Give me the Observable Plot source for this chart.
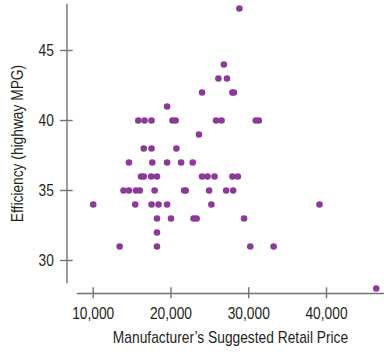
<!DOCTYPE html>
<html>
<head>
<meta charset="utf-8">
<script src="https://cdn.jsdelivr.net/npm/d3@7"></script>
<script src="https://cdn.jsdelivr.net/npm/@observablehq/plot@0.6"></script>
<style>
  html, body { margin: 0; padding: 0; background: #fff; }
  #chart svg { display: block; }
</style>
</head>
<body>
<div id="chart"></div>
<script>
const prices = [
  28800,
  26800,
  26100, 27200,
  24000, 27900, 28100,
  19500,
  15800, 16600, 17500, 20200, 20600, 25800, 26500, 30900, 31300,
  23600,
  16500, 17500, 20700,
  14600, 17600, 19500, 21300, 22800,
  16150, 16500, 17450, 18200, 24000, 24700, 25600, 27900, 28600,
  13900, 14600, 15500, 16000, 17900, 21700, 21900, 24900, 27100, 28000,
  10000, 15400, 17500, 18400, 19500, 25200, 39100,
  18200, 20000, 22900, 23300, 29400,
  18200,
  13400, 18200, 30200, 33200,
  46400
];
const mpg = [
  48,
  44,
  43, 43,
  42, 42, 42,
  41,
  40, 40, 40, 40, 40, 40, 40, 40, 40,
  39,
  38, 38, 38,
  37, 37, 37, 37, 37,
  36, 36, 36, 36, 36, 36, 36, 36, 36,
  35, 35, 35, 35, 35, 35, 35, 35, 35, 35,
  34, 34, 34, 34, 34, 34, 34,
  33, 33, 33, 33, 33,
  32,
  31, 31, 31, 31,
  28
];
const xTicks = [10000, 20000, 30000, 40000];
const yTicks = [30, 35, 40, 45];
const xLabel = "Manufacturer\u2019s Suggested Retail Price";
const yLabel = "Efficiency (highway MPG)";

const cars = prices.map((p, i) => ({price: p, mpg: mpg[i]}));

const font = "'Liberation Sans', Arial, sans-serif";
const axisColor = "#737373";
const textColor = "#231f20";
const fs = 16.8;

const chart = Plot.plot({
  width: 384,
  height: 352,
  marginTop: 4,
  marginRight: 1,
  marginBottom: 70,
  marginLeft: 77,
  style: {fontFamily: font, fontSize: fs + "px", color: textColor, background: "#fff"},
  x: {domain: [7981, 47330]},
  y: {domain: [28.4286, 48.2857]},
  marks: [
    Plot.frame({anchor: "left", dx: -10.5, stroke: axisColor, strokeWidth: 1.4}),
    Plot.frame({anchor: "bottom", dy: 11, stroke: axisColor, strokeWidth: 1.4}),
    Plot.axisY({ticks: yTicks, tickSize: 12.7, dx: -4.3, tickPadding: 6.7, stroke: axisColor, strokeWidth: 1.4, fill: textColor, fontSize: fs, label: null}),
    Plot.axisY({ticks: [], tickSize: 0, label: yLabel, labelAnchor: "center", labelOffset: 66, labelArrow: "none", fill: textColor, fontSize: fs}),
    Plot.axisX({ticks: xTicks, tickSize: 11, dy: 5.3, tickPadding: 8, stroke: axisColor, strokeWidth: 1.4, fill: textColor, fontSize: fs, tickFormat: d3.format(","), label: null}),
    Plot.axisX({ticks: [], tickSize: 0, label: xLabel, labelAnchor: "center", labelOffset: 60, labelArrow: "none", fill: textColor, fontSize: fs}),
    Plot.dot(cars, {x: "price", y: "mpg", r: 3.3, fill: "#8b3a98", stroke: "none"})
  ]
});
document.getElementById("chart").appendChild(chart);

// Condense glyphs horizontally (narrow, Helvetica-Condensed-like look); text stays real text.
chart.querySelectorAll("text").forEach(t => {
  if (t.textContent === xLabel) {
    const tr = t.getAttribute("transform") || "";
    t.setAttribute("transform", `${tr} scale(0.82,1)`.trim());
  } else {
    const len = t.getComputedTextLength();
    if (len > 0) {
      t.setAttribute("textLength", (len * 0.82).toFixed(2));
      t.setAttribute("lengthAdjust", "spacingAndGlyphs");
    }
  }
});
</script>
</body>
</html>
